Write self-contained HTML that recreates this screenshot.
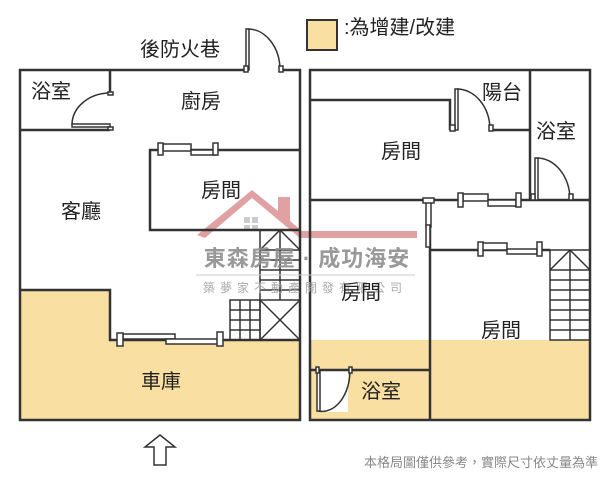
<!DOCTYPE html>
<html><head><meta charset="utf-8"><style>
html,body{margin:0;padding:0;background:#fff;}
svg{display:block;font-family:"Liberation Sans","Noto Sans CJK TC",sans-serif;}
</style></head><body>
<svg width="610" height="480" viewBox="0 0 610 480" xmlns="http://www.w3.org/2000/svg">
<rect width="610" height="480" fill="#fff"/>
<!-- yellow fills -->
<polygon points="20,290 110,290 110,340 300,340 300,420 20,420" fill="#f9e0a2"/>
<rect x="310" y="340" width="280" height="80" fill="#f9e0a2"/>
<rect x="318" y="370" width="30" height="42" fill="#fff"/>
<!-- watermark roof -->
<polygon points="197,235 252,190 278,211 278,197 290,197 290,221 302,231 417,231 417,238 300,238 252,198 205,238" fill="#d98a8c" opacity="0.8"/>
<rect x="244" y="217" width="6" height="6" fill="#ccc"/><rect x="252" y="217" width="6" height="6" fill="#ccc"/>
<rect x="244" y="225" width="6" height="6" fill="#ccc"/><rect x="252" y="225" width="6" height="6" fill="#ccc"/>
<g fill="none" stroke="#333" stroke-width="2.5">
<!-- left building -->
<polyline points="246,70 20,70 20,420 300,420 300,70 282,70"/>
<line x1="110" y1="70" x2="110" y2="93"/>
<line x1="20" y1="130" x2="110" y2="130"/>
<polyline points="300,150 150,150 150,230 300,230"/>
<polyline points="20,290 110,290 110,340 300,340"/>
<!-- right building -->
<rect x="310" y="70" width="280" height="350"/>
<polyline points="310,100 450,100 450,130"/>
<line x1="490" y1="130" x2="530" y2="130"/>
<line x1="530" y1="70" x2="530" y2="200"/>
<line x1="310" y1="200" x2="590" y2="200"/>
<line x1="430" y1="200" x2="430" y2="420"/>
<line x1="430" y1="250" x2="550" y2="250"/>
<line x1="310" y1="370" x2="430" y2="370"/>
</g>
<g fill="none" stroke="#333" stroke-width="1.5">
<!-- doors -->
<path d="M248,29 A32,41 0 0 1 280,70"/>
<path d="M110,93 A38,32 0 0 0 72,125"/>
<path d="M457,89 A33,41 0 0 1 490,130"/>
<path d="M537,158 A33,42 0 0 1 570,200"/>
<path d="M318,411 A28,41 0 0 0 350,370"/>
<!-- stairs left -->
<rect x="230" y="300" width="30" height="40"/>
<line x1="240" y1="300" x2="240" y2="340"/><line x1="250" y1="300" x2="250" y2="340"/>
<line x1="230" y1="310" x2="260" y2="310"/><line x1="230" y1="320" x2="260" y2="320"/><line x1="230" y1="330" x2="260" y2="330"/>
<rect x="260" y="230" width="40" height="110"/>
<polyline points="260,250 280,230 300,250"/>
<line x1="260" y1="250" x2="300" y2="250"/><line x1="260" y1="260" x2="300" y2="260"/>
<line x1="260" y1="270" x2="300" y2="270"/><line x1="260" y1="280" x2="300" y2="280"/>
<line x1="260" y1="290" x2="300" y2="290"/>
<line x1="260" y1="300" x2="300" y2="300"/>
<line x1="260" y1="300" x2="300" y2="340"/><line x1="300" y1="300" x2="260" y2="340"/>
<line x1="280" y1="230" x2="280" y2="300"/>
<!-- stairs right -->
<rect x="550" y="250" width="40" height="90"/>
<line x1="570" y1="250" x2="570" y2="340"/>
<polyline points="550,270 570,250 590,270"/>
<line x1="550" y1="270" x2="590" y2="270"/><line x1="550" y1="280" x2="590" y2="280"/>
<line x1="550" y1="290" x2="590" y2="290"/><line x1="550" y1="300" x2="590" y2="300"/>
<line x1="550" y1="310" x2="590" y2="310"/><line x1="550" y1="320" x2="590" y2="320"/>
<line x1="550" y1="330" x2="590" y2="330"/>
</g>
<g fill="#fff" stroke="#333" stroke-width="1.5">
<rect x="246" y="29" width="3" height="41"/><rect x="244" y="66" width="4" height="6"/><rect x="279" y="66" width="4" height="6"/>
<rect x="72" y="124" width="38" height="3"/><rect x="108" y="92" width="5" height="3"/><rect x="108" y="127" width="5" height="3"/>
<rect x="455" y="89" width="3" height="41"/><rect x="450" y="125" width="5" height="6"/><rect x="489" y="125" width="4" height="6"/>
<rect x="535" y="158" width="3" height="42"/><rect x="531" y="194" width="4" height="6"/><rect x="569" y="194" width="4" height="6"/>
<rect x="317" y="370" width="3" height="41"/><rect x="316" y="367" width="3" height="6"/><rect x="349" y="367" width="3" height="6"/>
<rect x="163" y="144" width="28" height="7"/><rect x="191" y="150" width="24" height="5"/>
<rect x="158" y="143" width="5" height="12"/><rect x="213" y="143" width="5" height="12"/>
<rect x="123" y="334" width="52" height="5"/><rect x="166" y="339" width="54" height="5"/>
<rect x="117" y="333" width="6" height="13"/><rect x="217" y="332" width="6" height="14"/>
<rect x="463" y="194" width="25" height="7"/><rect x="488" y="200" width="28" height="6"/>
<rect x="458" y="193" width="5" height="14"/><rect x="516" y="193" width="5" height="14"/>
<rect x="482" y="243" width="25" height="7"/><rect x="507" y="249" width="30" height="5"/>
<rect x="478" y="242" width="5" height="14"/><rect x="537" y="242" width="5" height="14"/>
<rect x="426" y="202" width="5" height="25"/><rect x="423" y="198" width="11" height="5"/>
<rect x="426" y="225" width="4" height="22"/>
<polygon points="160,435 145,447 154,447 154,465 166,465 166,447 175,447"/>
</g>
<rect x="307" y="20" width="30" height="30" fill="#f9e0a2" stroke="#333" stroke-width="2"/>
<line x1="196" y1="275" x2="415" y2="275" stroke="#ccc" stroke-width="1"/>
<text x="307" y="266" font-size="22" font-weight="bold" fill="#8e8e8e" text-anchor="middle" opacity="0.9" letter-spacing="1">東森房屋 · 成功海安</text>
<text x="305" y="292" font-size="12" fill="#aaa" text-anchor="middle" letter-spacing="5">築夢家不動產開發有限公司</text>
<g font-size="20" fill="#222">
<text x="140" y="56">後防火巷</text>
<text x="31" y="98">浴室</text>
<text x="181" y="108">廚房</text>
<text x="201" y="197">房間</text>
<text x="61" y="218">客廳</text>
<text x="141" y="388">車庫</text>
<text x="344" y="34">:為增建/改建</text>
<text x="482" y="99">陽台</text>
<text x="536" y="138">浴室</text>
<text x="381" y="158">房間</text>
<text x="341" y="299">房間</text>
<text x="481" y="337">房間</text>
<text x="361" y="398">浴室</text>
</g>
<text x="598" y="467" font-size="13" fill="#888" text-anchor="end">本格局圖僅供參考，實際尺寸依丈量為準</text>
</svg>
</body></html>
